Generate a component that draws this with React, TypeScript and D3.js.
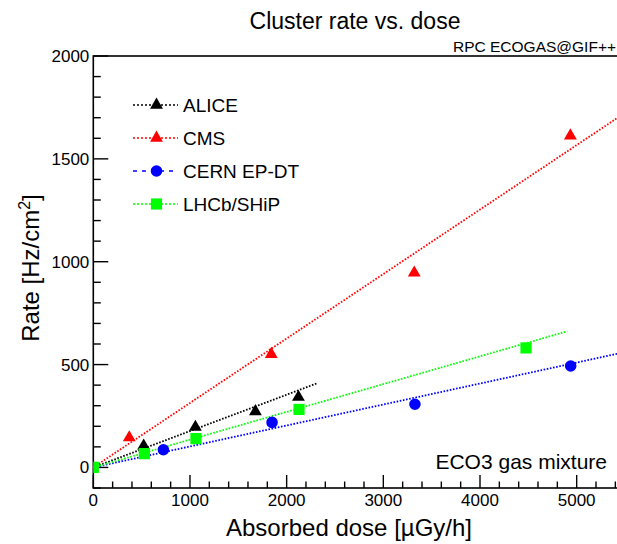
import React, { Component } from 'react'
import * as d3 from 'd3'

const aliceDose = [521, 1056, 1677, 2122]
const aliceRate = [105, 196, 272, 342]
const cmsDose = [372, 1841, 3320, 4935]
const cmsRate = [145, 550, 946, 1612]
const cernDose = [725, 1849, 3327, 4938]
const cernRate = [86, 219, 307, 493]
const lhcbDose = [0, 528, 1062, 2128, 4476]
const lhcbRate = [0, 67, 140, 282, 581]

// fit lines: [dose, rate] at start and end
const aliceFit = [[0, 0], [2320, 410]]
const cmsFit = [[0, 0], [5600, 1755]]
const cernFit = [[0, 0], [5600, 571]]
const lhcbFit = [[0, 0], [4903, 662]]

const xTicks = [0, 1000, 2000, 3000, 4000, 5000]
const yTicks = [0, 500, 1000, 1500, 2000]

const series = [
  { name: 'ALICE', dose: aliceDose, rate: aliceRate, fit: aliceFit, color: '#000000', symbol: d3.symbolTriangle, size: 72, legendDash: '2,2' },
  { name: 'CMS', dose: cmsDose, rate: cmsRate, fit: cmsFit, color: '#ff0000', symbol: d3.symbolTriangle, size: 72, legendDash: '2,2' },
  { name: 'CERN EP-DT', dose: cernDose, rate: cernRate, fit: cernFit, color: '#0000ff', symbol: d3.symbolCircle, size: 105, legendDash: '4,5' },
  { name: 'LHCb/SHiP', dose: lhcbDose, rate: lhcbRate, fit: lhcbFit, color: '#00ff00', symbol: d3.symbolSquare, size: 125, legendDash: '2,2' },
]

const font = '"Liberation Sans", Arial, Helvetica, sans-serif'

class App extends Component {
  node: SVGSVGElement | null = null

  componentDidMount() {
    this.drawChart()
  }

  drawChart() {
    const svg = d3.select(this.node)
    svg.selectAll('*').remove()

    const left = 93.3
    const top = 56
    const bottom = 488
    const right = 640

    const x = d3.scaleLinear().domain([0, 5655]).range([left, right])
    const y = d3.scaleLinear().domain([-100, 2000]).range([bottom, top])

    svg.append('defs').append('clipPath').attr('id', 'frame')
      .append('rect')
      .attr('x', left).attr('y', top)
      .attr('width', right - left).attr('height', bottom - top)

    // frame
    svg.append('rect')
      .attr('x', left).attr('y', top)
      .attr('width', right - left).attr('height', bottom - top)
      .attr('fill', 'none').attr('stroke', '#000').attr('stroke-width', 1.6)

    // x ticks (drawn inside the frame, ROOT style)
    const xMinor = d3.range(0, 5600, 200)
    svg.append('g').selectAll('line')
      .data(xMinor)
      .enter()
      .append('line')
      .attr('x1', d => x(d)).attr('x2', d => x(d))
      .attr('y1', bottom)
      .attr('y2', d => bottom - (d % 1000 === 0 ? 13 : 6.5))
      .attr('stroke', '#000').attr('stroke-width', 1.4)

    svg.append('g').selectAll('text')
      .data(xTicks)
      .enter()
      .append('text')
      .attr('x', d => x(d))
      .attr('y', 506)
      .attr('text-anchor', 'middle')
      .style('font-family', font)
      .style('font-size', '17px')
      .text(d => d)

    // y ticks
    const yMinor = d3.range(-100, 2001, 100)
    svg.append('g').selectAll('line')
      .data(yMinor)
      .enter()
      .append('line')
      .attr('y1', d => y(d)).attr('y2', d => y(d))
      .attr('x1', left)
      .attr('x2', d => left + (d % 500 === 0 ? 15 : 7.5))
      .attr('stroke', '#000').attr('stroke-width', 1.4)

    svg.append('g').selectAll('text')
      .data(yTicks)
      .enter()
      .append('text')
      .attr('x', left - 4)
      .attr('y', d => y(d) + 6)
      .attr('text-anchor', 'end')
      .style('font-family', font)
      .style('font-size', '17px')
      .text(d => d)

    // fit lines
    const plot = svg.append('g').attr('clip-path', 'url(#frame)')
    const line = d3.line<number[]>().x(d => x(d[0])).y(d => y(d[1]))
    series.forEach(s => {
      plot.append('path')
        .attr('d', line(s.fit))
        .attr('fill', 'none')
        .attr('stroke', s.color)
        .attr('stroke-width', 1.8)
        .attr('stroke-dasharray', '1.6,1.6')
    })

    // markers
    series.forEach(s => {
      plot.append('g').selectAll('path')
        .data(s.dose)
        .enter()
        .append('path')
        .attr('transform', (d, i) => `translate(${x(d)}, ${y(s.rate[i])})`)
        .attr('d', d3.symbol().type(s.symbol).size(s.size)())
        .attr('fill', s.color)
    })

    // legend
    const legendY = d3.scaleLinear().domain([0, 3]).range([105, 204])
    series.forEach((s, i) => {
      const ly = legendY(i)
      svg.append('line')
        .attr('x1', 133).attr('x2', 178)
        .attr('y1', ly).attr('y2', ly)
        .attr('stroke', s.color)
        .attr('stroke-width', 1.5)
        .attr('stroke-dasharray', s.legendDash)
      svg.append('path')
        .attr('transform', `translate(156.5, ${ly})`)
        .attr('d', d3.symbol().type(s.symbol).size(s.size)())
        .attr('fill', s.color)
      svg.append('text')
        .attr('x', 183)
        .attr('y', ly + 7)
        .style('font-family', font)
        .style('font-size', '19px')
        .text(s.name)
    })

    // title and labels
    svg.append('text')
      .attr('x', 355).attr('y', 29)
      .attr('text-anchor', 'middle')
      .style('font-family', font)
      .style('font-size', '23px')
      .text('Cluster rate vs. dose')

    svg.append('text')
      .attr('x', 616).attr('y', 52)
      .attr('text-anchor', 'end')
      .style('font-family', font)
      .style('font-size', '15.5px')
      .text('RPC ECOGAS@GIF++')

    svg.append('text')
      .attr('x', 607).attr('y', 469)
      .attr('text-anchor', 'end')
      .style('font-family', font)
      .style('font-size', '21px')
      .text('ECO3 gas mixture')

    svg.append('text')
      .attr('x', 349).attr('y', 536)
      .attr('text-anchor', 'middle')
      .style('font-family', font)
      .style('font-size', '24px')
      .text('Absorbed dose [µGy/h]')

    const yLabel = svg.append('text')
      .attr('transform', 'translate(39, 268) rotate(-90)')
      .attr('text-anchor', 'middle')
      .style('font-family', font)
      .style('font-size', '24px')
    yLabel.append('tspan').text('Rate [Hz/cm')
    yLabel.append('tspan').attr('dy', -9).style('font-size', '16px').text('2')
    yLabel.append('tspan').attr('dy', 9).text(']')
  }

  render() {
    return (
      <svg
        ref={el => { this.node = el }}
        width={617}
        height={544}
        style={{ position: 'absolute', left: 0, top: 0, background: '#fff' }}
      />
    )
  }
}

export default App
